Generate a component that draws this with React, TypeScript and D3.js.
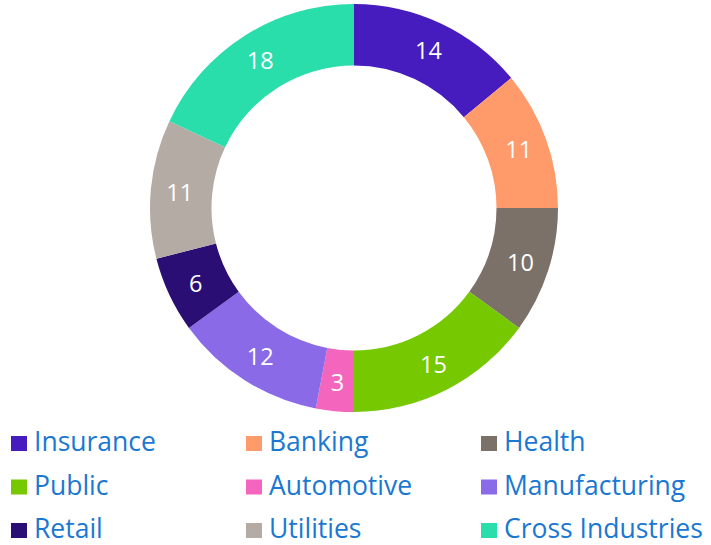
import React from "react";
import * as d3 from "d3";

const width = 711;
const height = 545;

const categories = [
  "Insurance",
  "Banking",
  "Health",
  "Public",
  "Automotive",
  "Manufacturing",
  "Retail",
  "Utilities",
  "Cross Industries",
];
const values = [14, 11, 10, 15, 3, 12, 6, 11, 18];
const colors = [
  "#461cbe",
  "#ff9a6a",
  "#7b7168",
  "#76c800",
  "#f466bd",
  "#8a6ae6",
  "#2a0e73",
  "#b3aba4",
  "#2adeac",
];

const cx = 354;
const cy = 208;
const outerR = 204;
const innerR = 142.5;
const labelR = 175;
const font = "'Open Sans', 'Noto Sans', sans-serif";

const App = () => {
  const pie = d3
    .pie<number>()
    .sort(null)
    .value((d) => d);
  const arcs = pie(values);
  const arc = d3
    .arc<d3.PieArcDatum<number>>()
    .innerRadius(innerR)
    .outerRadius(outerR);
  const labelArc = d3
    .arc<d3.PieArcDatum<number>>()
    .innerRadius(labelR)
    .outerRadius(labelR);

  // legend grid: 3 columns x 3 rows (baselines)
  const colX = d3.scalePoint<number>().domain([0, 1, 2]).range([11, 481]);
  const rowY = d3.scalePoint<number>().domain([0, 1, 2]).range([451, 538]);

  return (
    <svg
      width={width}
      height={height}
      style={{ position: "absolute", left: 0, top: 0 }}
    >
      <rect width={width} height={height} fill="#fff" />
      <g transform={`translate(${cx},${cy})`}>
        {arcs.map((a, i) => (
          <path key={categories[i]} d={arc(a) ?? ""} fill={colors[i]} />
        ))}
        {arcs.map((a, i) => {
          const [x, y] = labelArc.centroid(a);
          return (
            <text
              key={"l" + i}
              x={x}
              y={y}
              textAnchor="middle"
              dominantBaseline="central"
              fill="#fff"
              fontFamily={font}
              fontSize={23.5}
            >
              {values[i]}
            </text>
          );
        })}
      </g>
      <g>
        {categories.map((c, i) => {
          const x = colX(i % 3)!;
          const y = rowY(Math.floor(i / 3))!;
          return (
            <g key={c} transform={`translate(${x},${y})`}>
              <rect x={0} y={-15} width={16} height={15} fill={colors[i]} />
              <text
                x={23}
                y={0}
                fill="#1a78d2"
                fontFamily={font}
                fontSize={26.5}
              >
                {c}
              </text>
            </g>
          );
        })}
      </g>
    </svg>
  );
};

export default App;
